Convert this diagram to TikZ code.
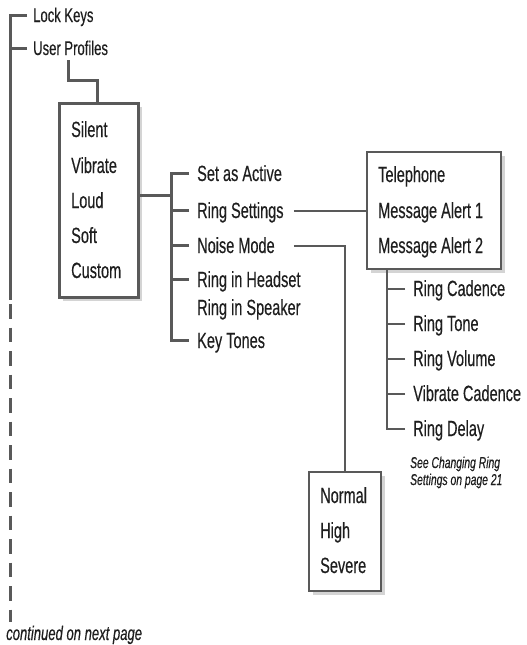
\documentclass[tikz,border=0pt]{standalone}
\usepackage{fontspec}
\setmainfont[FakeStretch=0.66,FakeBold=0.35]{Liberation Sans}
\usetikzlibrary{shadows}
\definecolor{lnc}{HTML}{595959}
\definecolor{txc}{HTML}{1E1E1E}
\definecolor{shc}{HTML}{D4D4D4}
\begin{document}
\begin{tikzpicture}[x=1pt,y=-1pt,
  mainln/.style={draw=lnc,line width=3pt},
  thinln/.style={draw=lnc,line width=2pt},
  item/.style={anchor=base west,inner sep=0pt,text=txc,font=\fontsize{22}{24}\selectfont,text height=15pt,text depth=0pt},
  topitem/.style={item,font=\fontsize{19.8}{22}\selectfont,text height=13.5pt},
  note/.style={anchor=base west,inner sep=0pt,text=txc,font=\fontsize{15.7}{17}\selectfont\itshape},
  menubox/.style={draw=lnc,fill=white,anchor=north west,inner sep=0pt,
    drop shadow={shadow xshift=4pt,shadow yshift=-4pt,opacity=1,fill=shc}}]
\useasboundingbox (0,0) rectangle (527,645);

% top level
\node[topitem] (lock) at (33,22) {Lock Keys};
\node[topitem] (up) at (33,55) {User Profiles};
\coordinate (trunkend) at (10,300);
\coordinate (dashstart) at (10,304);
\coordinate (dashend) at (10,622);
\draw[mainln] ([xshift=-6]lock.west) -- ++(-17,0) -- (trunkend);
\draw[mainln] ([xshift=-6]up.west) -- ++(-17,0);
\draw[mainln,dash pattern=on 14.5pt off 9pt] (dashstart) -- (dashend);
\node[note,font=\fontsize{19.8}{22}\selectfont\itshape] (cont) at (6,640) {continued on next page};

% profiles box
\node[menubox,line width=2.8pt,minimum width=79pt,minimum height=194pt] (profbox) at (58,102) {};
\draw[mainln] ([shift={(35,5)}]up.south west) -- ++(0,20) -| ([xshift=39]profbox.north west);
\node[item] (silent) at (71,137) {Silent};
\node[item] (vibrate) at (71,173) {Vibrate};
\node[item] (loud) at (71,208) {Loud};
\node[item] (soft) at (71,243) {Soft};
\node[item] (custom) at (71,278) {Custom};

% profile options
\node[item] (act) at (197,181) {Set as Active};
\node[item] (rs) at (197,218) {Ring Settings};
\node[item] (nm) at (197,253) {Noise Mode};
\node[item] (rih) at (197,287) {Ring in Headset};
\node[item] (ris) at (197,315) {Ring in Speaker};
\node[item] (kt) at (197,348) {Key Tones};
\coordinate (busj) at (171,195);
\draw[mainln] (profbox.east |- busj) -- (busj);
\draw[mainln] ([xshift=-8]act.west) -- ++(-18,0) |- ([xshift=-8]kt.west);
\draw[mainln] ([xshift=-8]rs.west) -- ++(-18,0);
\draw[mainln] ([xshift=-8]nm.west) -- ++(-18,0);
\draw[mainln] ([xshift=-8]rih.west) -- ++(-18,0);

% ring settings box
\node[menubox,line width=2pt,minimum width=134pt,minimum height=117pt] (telbox) at (366,151) {};
\node[item] (tel) at (378,182) {Telephone};
\node[item] (ma1) at (378,218) {Message Alert 1};
\node[item] (ma2) at (378,253) {Message Alert 2};
\draw[thinln] ([xshift=10]rs.east) -- (telbox.west |- rs.east);

% ring sub-items
\node[item] (rcad) at (413,296) {Ring Cadence};
\node[item] (rtone) at (413,331) {Ring Tone};
\node[item] (rvol) at (413,366) {Ring Volume};
\node[item] (vcad) at (413,401) {Vibrate Cadence};
\node[item] (rdel) at (413,436) {Ring Delay};
\draw[thinln] ([xshift=-8]rdel.west) -- ++(-18,0) -- ([xshift=-26]rdel.west |- telbox.south);
\draw[thinln] ([xshift=-8]rcad.west) -- ++(-18,0);
\draw[thinln] ([xshift=-8]rtone.west) -- ++(-18,0);
\draw[thinln] ([xshift=-8]rvol.west) -- ++(-18,0);
\draw[thinln] ([xshift=-8]vcad.west) -- ++(-18,0);
\node[note] (see1) at (410,468) {See Changing Ring};
\node[note] (see2) at (410,485) {Settings on page 21};

% noise mode box
\node[menubox,line width=2pt,minimum width=72pt,minimum height=119pt] (normbox) at (308,471) {};
\node[item] (normal) at (320,503) {Normal};
\node[item] (high) at (320,538) {High};
\node[item] (severe) at (320,573) {Severe};
\draw[thinln] ([xshift=10]rs.east |- nm.east) -| (normbox.north);
\end{tikzpicture}
\end{document}
